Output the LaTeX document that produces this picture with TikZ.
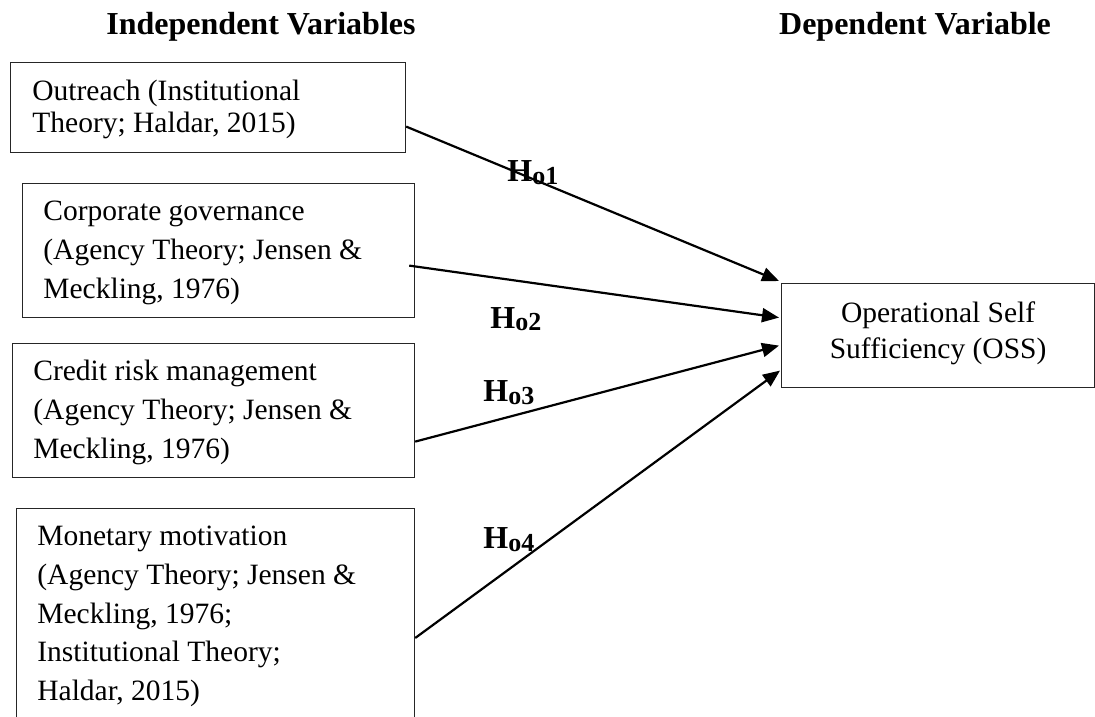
\documentclass[tikz,border=0pt]{standalone}
\usepackage{fontspec}
\setmainfont{Liberation Serif}
\usetikzlibrary{arrows.meta, positioning}
\newcommand{\hoLabel}[1]{H\raisebox{-1.5pt}{\fontsize{13}{13}\selectfont o#1}}
\tikzset{
	varbox/.style={draw=black!85, line width=0.6pt, shape=rectangle, anchor=north west, inner sep=0pt},
	vartext/.style={align=left, inner sep=0pt, font=\fontsize{14.75}{19.4}\selectfont},
	depvartext/.style={align=center, inner sep=0pt, font=\fontsize{14.75}{18}\selectfont},
	heading/.style={anchor=base, inner sep=0pt, font=\fontsize{16}{19}\selectfont\bfseries},
	hyplabel/.style={anchor=base west, inner sep=0pt, font=\fontsize{16}{18}\selectfont\bfseries},
	hyp/.style={-{Triangle[length=8.5pt, width=7pt]}, line width=1.1pt, color=black}
}

\begin{document}
\begin{tikzpicture}[x=0.5pt, y=-0.5pt]
		\clip (0,0) rectangle (1095,716);

		% Headings
		\node[heading] (indep) at (261,35) {Independent Variables};
		\node[heading] (dep) at (915,35) {Dependent Variable};

		% Boxes
		\node (out) [varbox, minimum width=197.5pt, minimum height=45pt] at (10,62) {};
		\node (gov) [varbox, minimum width=196pt, minimum height=67pt] at (22,183) {};
		\node (crm) [varbox, minimum width=201pt, minimum height=67pt] at (12,343) {};
		\node (mon) [varbox, minimum width=199pt, minimum height=110pt] at (16,508) {};
		\node (oss) [varbox, minimum width=156.5pt, minimum height=52pt] at (781,283) {};

		% Box texts
		\node (outtext) [vartext, font=\fontsize{14.75}{16}\selectfont, below right=7.8pt and 11pt of out.north west]
			{\strut Outreach (Institutional\\Theory; Haldar, 2015)};
		\node (govtext) [vartext, below right=5pt and 10.5pt of gov.north west]
			{\strut Corporate governance\\(Agency Theory; Jensen \&\\Meckling, 1976)};
		\node (crmtext) [vartext, below right=5pt and 10.5pt of crm.north west]
			{\strut Credit risk management\\(Agency Theory; Jensen \&\\Meckling, 1976)};
		\node (montext) [vartext, below right=5pt and 10.5pt of mon.north west]
			{\strut Monetary motivation\\(Agency Theory; Jensen \&\\Meckling, 1976;\\Institutional Theory;\\Haldar, 2015)};
		\node (osstext) [depvartext, below=6.9pt of oss.north]
			{\strut Operational Self\\Sufficiency (OSS)};

		% Hypotheses
		\node[hyplabel] (h1) at (507,182) {\hoLabel{1}};
		\node[hyplabel] (h2) at (490,328) {\hoLabel{2}};
		\node[hyplabel] (h3) at (483,401) {\hoLabel{3}};
		\node[hyplabel] (h4) at (483,548) {\hoLabel{4}};

		% Arrows
		\draw[hyp] ([yshift=-9.5pt]out.east) -- ([xshift=-1pt,yshift=1pt]oss.north west);
		\draw[hyp] ([xshift=-3pt,yshift=-7.5pt]gov.east) -- ([xshift=-1pt,yshift=9pt]oss.west);
		\draw[hyp] ([yshift=-15.5pt]crm.east) -- ([xshift=-1pt,yshift=-5pt]oss.west);
		\draw[hyp] ([yshift=-65pt]mon.north east) -- ([xshift=-0.5pt,yshift=-17.5pt]oss.west);

\end{tikzpicture}
\end{document}
